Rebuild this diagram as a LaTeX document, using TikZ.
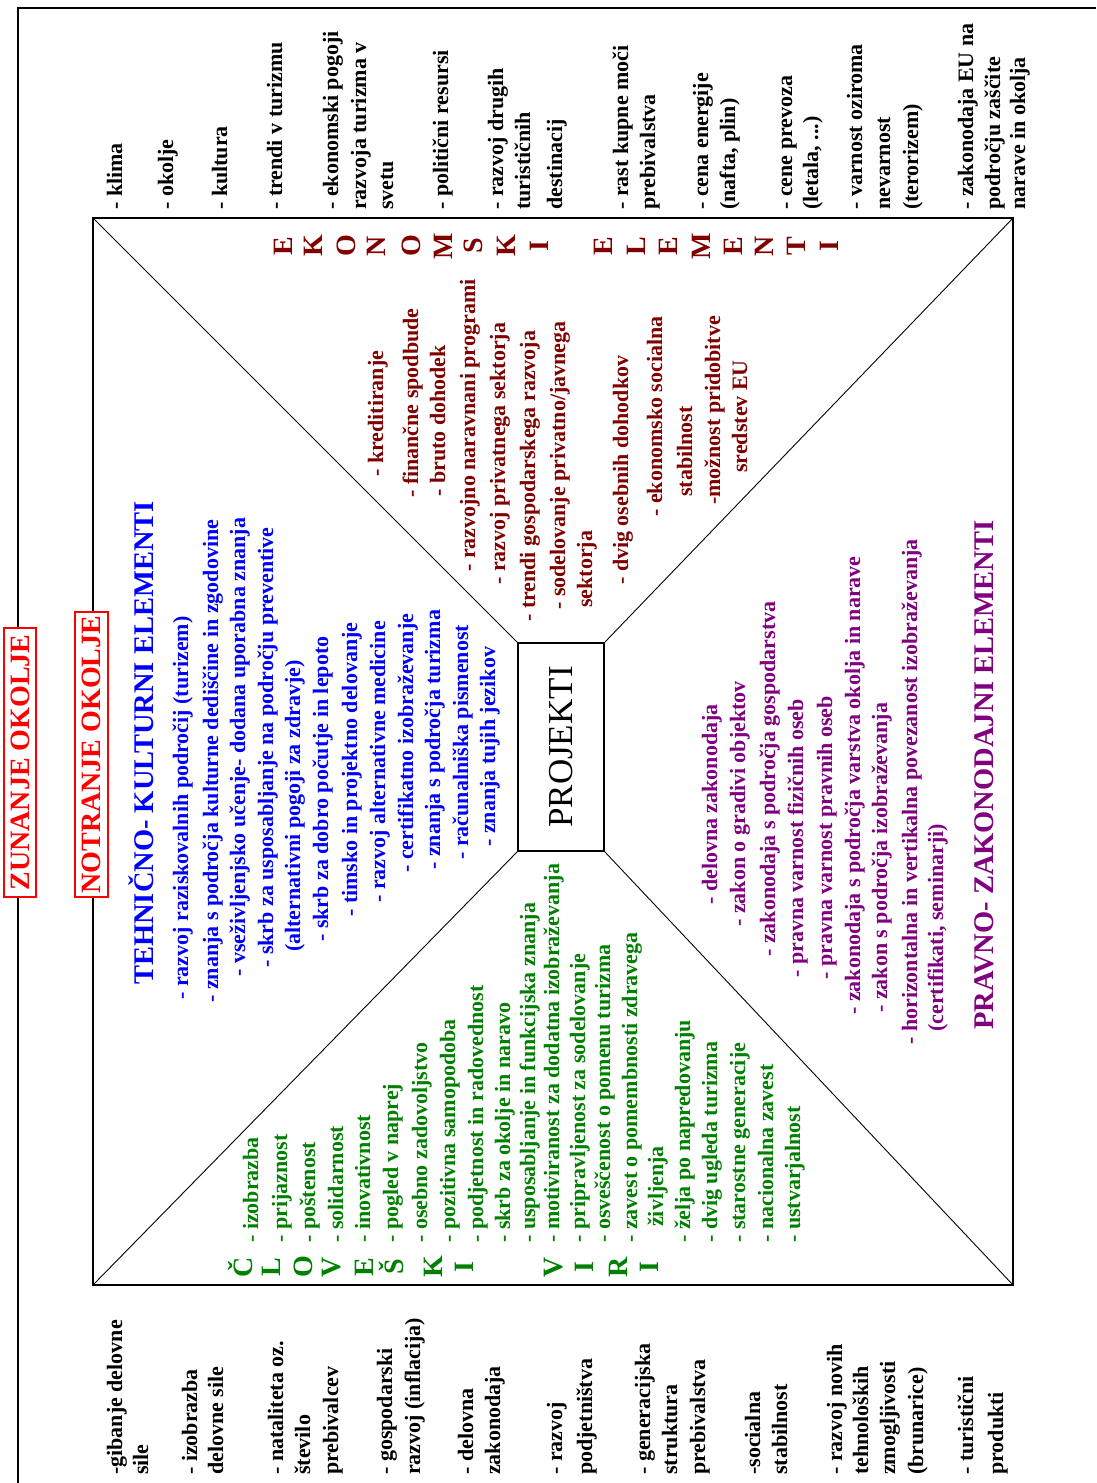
\documentclass[tikz,border=0pt]{standalone}
\usepackage{fontspec}
\setmainfont{Liberation Serif}
\definecolor{tblue}{RGB}{0,0,255}
\definecolor{tgreen}{RGB}{0,128,0}
\definecolor{tbrown}{RGB}{128,0,0}
\definecolor{tpurple}{RGB}{128,0,128}
\definecolor{tred}{RGB}{255,0,0}
\begin{document}
\begin{tikzpicture}[x=1pt,y=-1pt,
  every node/.style={inner sep=0pt},
  vt/.style={rotate=90, anchor=base west, font=\fontsize{22}{27}\selectfont\bfseries},
  vtitle/.style={rotate=90, anchor=base west, font=\fontsize{28.5}{34}\selectfont\bfseries},
  vletter/.style={rotate=90, anchor=base, font=\fontsize{28}{34}\selectfont\bfseries},
  redbox/.style={rotate=90, draw=tred, line width=1.5pt, fill=white, text=tred,
    font=\fontsize{28}{34}\selectfont\bfseries},
  frame/.style={line width=1.5pt},
  diag/.style={line width=0.9pt}
]
\useasboundingbox (0,0) rectangle (1096,1483);

% outer frame (only left and top edges fall inside the page)
\draw[frame] (18,1483) -- (18,8) -- (1096,8);

% inner rectangle and the central box
\node[draw, frame, minimum width=920pt, minimum height=1067pt] (inner) at (553,751.5) {};
\node[draw, frame, minimum width=86pt, minimum height=208pt] (proj) at (561,747) {};
\node[rotate=90, font=\fontsize{35}{40}\selectfont] (projtxt) at (proj.center) {PROJEKTI};

% diagonals from the rectangle corners to the box corners
\draw[diag] (inner.north west) -- (proj.north west);
\draw[diag] (inner.north east) -- (proj.north east);
\draw[diag] (inner.south west) -- (proj.south west);
\draw[diag] (inner.south east) -- (proj.south east);

% boxed headings on the frame lines
\node[redbox, minimum width=269pt, minimum height=32pt] (zunanje) at (20,762.5) {ZUNANJE OKOLJE};
\node[redbox, minimum width=285pt, minimum height=33pt] (notranje) at (91.5,754.5) {NOTRANJE OKOLJE};

% external factors, upper strip
\foreach \i/\x/\t in {1/122/{- klima}, 2/173/{- okolje}, 3/227/{- kultura},
  4/282/{- trendi v turizmu}, 5/338/{- ekonomski pogoji}, 6/366/{razvoja turizma v},
  7/393/{svetu}, 8/448/{- politični resursi}, 9/503/{- razvoj drugih},
  10/530/{turističnih}, 11/562/{destinacij}, 12/628/{- rast kupne moči},
  13/655/{prebivalstva}, 14/708/{- cena energije}, 15/735/{(nafta, plin)},
  16/792/{- cene prevoza}, 17/818/{(letala, ...)}, 18/862/{- varnost oziroma},
  19/890/{nevarnost}, 20/918/{(terorizem)}, 21/973/{- zakonodaja EU na},
  22/1000/{področju zaščite}, 23/1025/{narave in okolja}}
  \node[vt] (r\i) at (\x,210) {\t};

% external factors, lower strip
\foreach \i/\x/\t in {1/122/{-gibanje delovne}, 2/148/{sile}, 3/197/{- izobrazba},
  4/223/{delovne sile}, 5/283/{- nataliteta oz.}, 6/310/{število},
  7/338/{prebivalcev}, 8/392/{- gospodarski}, 9/420/{razvoj (inflacija)},
  10/473/{- delovna}, 11/500/{zakonodaja}, 12/562/{- razvoj}, 13/592/{podjetništva},
  14/650/{- generacijska}, 15/677/{struktura}, 16/705/{prebivalstva},
  17/760/{-socialna}, 18/787/{stabilnost}, 19/842/{- razvoj novih},
  20/868/{tehnoloških}, 21/895/{zmogljivosti}, 22/923/{(brunarice)},
  23/973/{- turistični}, 24/1003/{produkti}}
  \node[vt] (l\i) at (\x,1475) {\t};

% technical and cultural elements
\node[vtitle, text=tblue] (btitle) at (153,985) {TEHNIČNO- KULTURNI ELEMENTI};
\foreach \i/\x/\y/\t in {1/188/1000/{- razvoj raziskovalnih področij (turizem)},
  2/218/1003/{- znanja s področja kulturne dediščine in zgodovine},
  3/245/977/{- vseživljenjsko učenje- dodana uporabna znanja},
  4/273/968/{- skrb za usposabljanje na področju preventive},
  5/300/952/{(alternativni pogoji za zdravje)},
  6/328/942/{- skrb za dobro počutje in lepoto},
  7/357/917/{- timsko in projektno delovanje},
  8/385/903/{- razvoj alternativne medicine},
  9/413/873/{- certifikatno izobraževanje},
  10/440/870/{- znanja s področja turizma},
  11/468/860/{- računalniška pismenost},
  12/495/847/{- znanja tujih jezikov}}
  \node[vt, text=tblue] (b\i) at (\x,\y) {\t};

% human resources
\foreach \i/\x/\t in {1/252/Č, 2/280/L, 3/312/O, 4/340/V, 5/373/E, 6/403/Š,
  7/442/K, 8/473/I, 9/562/V, 10/593/I, 11/627/R, 12/658/I}
  \node[vletter, text=tgreen] (gl\i) at (\x,1267) {\t};
\foreach \i/\x/\t in {1/258/{- izobrazba}, 2/287/{- prijaznost}, 3/315/{- poštenost},
  4/343/{- solidarnost}, 5/370/{- inovativnost}, 6/398/{- pogled v naprej},
  7/427/{- osebno zadovoljstvo}, 8/455/{- pozitivna samopodoba},
  9/483/{- podjetnost in radovednost}, 10/510/{- skrb za okolje in naravo},
  11/535/{- usposabljanje in funkcijska znanja},
  12/559/{- motiviranost za dodatna izobraževanja},
  13/585/{- pripravljenost za sodelovanje}, 14/610/{- osveščenost o pomenu turizma},
  15/637/{- zavest o pomembnosti zdravega}, 17/690/{- želja po napredovanju},
  18/717/{- dvig ugleda turizma}, 19/745/{- starostne generacije},
  20/773/{- nacionalna zavest}, 21/800/{- ustvarjalnost}}
  \node[vt, text=tgreen] (g\i) at (\x,1243) {\t};
\node[vt, text=tgreen] (g16) at (663,1227) {življenja};

% economic elements
\foreach \i/\x/\t in {1/292/E, 2/322/K, 3/355/O, 4/385/N, 5/420/O, 6/452/M,
  7/482/S, 8/515/K, 9/548/I, 10/612/E, 11/645/L, 12/677/E, 13/710/M,
  14/742/E, 15/773/N, 16/805/T, 17/838/I}
  \node[vletter, text=tbrown] (el\i) at (\x,246) {\t};
\foreach \i/\x/\y/\t in {1/383/477/{- kreditiranje}, 2/418/498/{- finančne spodbude},
  3/445/497/{- bruto dohodek}, 4/475/572/{- razvojno naravnani programi},
  5/505/585/{- razvoj privatnega sektorja}, 6/535/622/{- trendi gospodarskega razvoja},
  7/565/610/{- sodelovanje privatno/javnega}, 8/592/608/{sektorja},
  9/628/585/{- dvig osebnih dohodkov}, 10/662/517/{- ekonomsko socialna},
  11/692/497/{stabilnost}, 12/720/505/{-možnost pridobitve}, 13/747/473/{sredstev EU}}
  \node[vt, text=tbrown] (e\i) at (\x,\y) {\t};

% legal elements
\foreach \i/\x/\y/\t in {1/717/905/{- delovna zakonodaja},
  2/745/927/{- zakon o gradivi objektov},
  3/775/957/{- zakonodaja s področja gospodarstva},
  4/803/978/{- pravna varnost fizičnih oseb},
  5/832/980/{- pravna varnost pravnih oseb},
  6/860/1015/{- zakonodaja s področja varstva okolja in narave},
  7/887/1013/{- zakon s področja izobraževanja},
  8/917/1045/{- horizontalna in vertikalna povezanost izobraževanja},
  9/943/1032/{(certifikati, seminarji)}}
  \node[vt, text=tpurple] (p\i) at (\x,\y) {\t};
\node[vtitle, text=tpurple] (ptitle) at (993,1030) {PRAVNO- ZAKONODAJNI ELEMENTI};
\end{tikzpicture}
\end{document}
